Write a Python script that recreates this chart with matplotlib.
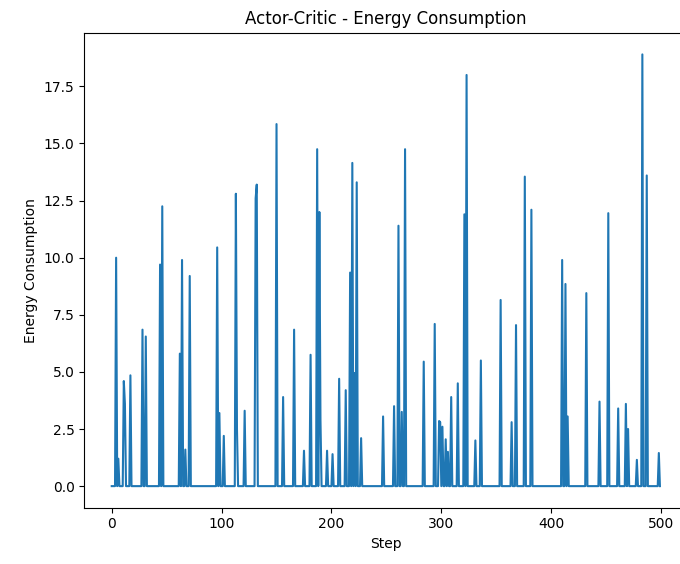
import numpy as np
import matplotlib
matplotlib.use("Agg")
import matplotlib.pyplot as plt

# steps where the agent consumed energy, everything else is zero
n_steps = 500
spike_steps = [4, 6, 11, 12, 17, 28, 31, 44, 46, 62, 64, 67, 71,
               96, 98, 102, 113, 114, 121, 131, 132, 150, 156, 166, 175,
               181, 187, 189, 190, 196, 201, 207, 213, 217, 219, 221, 223,
               227, 247, 257, 261, 264, 267, 284, 294, 298, 299, 301, 304,
               306, 309, 315, 321, 323, 331, 336, 354, 364, 368, 376, 382,
               410, 413, 415, 432, 444, 452, 461, 468, 470, 478, 483, 487,
               498]
spike_values = [10.0, 1.2, 4.6, 3.6, 4.85, 6.85, 6.55, 9.7, 12.25, 5.8, 9.9, 1.6, 9.2,
                10.45, 3.2, 2.2, 12.8, 2.5, 3.3, 12.6, 13.2, 15.85, 3.9, 6.85, 1.55,
                5.75, 14.75, 12.0, 2.9, 1.55, 1.4, 4.7, 4.2, 9.35, 14.15, 4.95, 13.3,
                2.1, 3.05, 3.5, 11.4, 3.25, 14.75, 5.45, 7.1, 2.85, 2.8, 2.6, 2.05,
                1.5, 3.9, 4.5, 11.9, 18.0, 2.0, 5.5, 8.15, 2.8, 7.05, 13.55, 12.1,
                9.9, 8.85, 3.05, 8.45, 3.7, 11.95, 3.4, 3.6, 2.5, 1.15, 18.9, 13.6,
                1.45]

steps = np.arange(n_steps)
energy = np.zeros(n_steps)
energy[spike_steps] = spike_values

fig = plt.figure(figsize=(6.8, 5.64), dpi=100)
# right edge of the axes sits just past the figure (cropped screenshot)
ax = fig.add_axes([0.124, 0.0998, 0.8868, 0.842])
ax.plot(steps, energy)
ax.set_title("Actor-Critic - Energy Consumption")
ax.set_xlabel("Step")
ax.set_ylabel("Energy Consumption")

fig.savefig("out.png", dpi=100)
